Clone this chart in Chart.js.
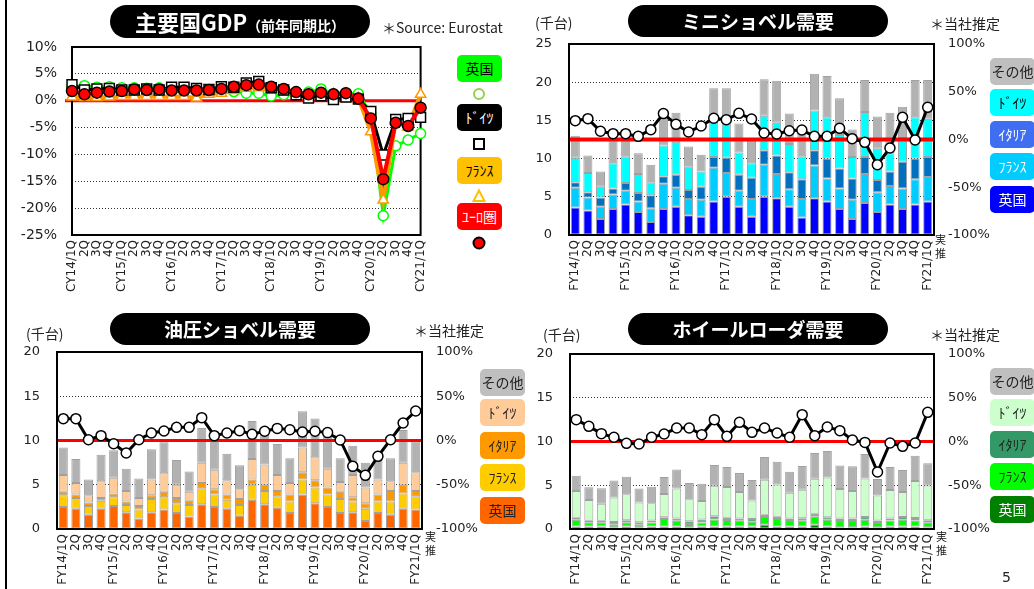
<!DOCTYPE html>
<html lang="ja">
<head>
<meta charset="utf-8">
<script src="https://cdn.jsdelivr.net/npm/chart.js@4.4.0/dist/chart.umd.min.js"></script>
<style>
  body { margin: 0; width: 1034px; height: 589px; overflow: hidden; background: #fff; position: relative;
         font-family: "Noto Sans CJK JP", sans-serif; color: #222; }
  canvas { position: absolute; }
  .pill { position: absolute; background: #000; color: #fff; border-radius: 17px; font-weight: 700;
          text-align: center; white-space: nowrap; }
  .note { position: absolute; font-size: 14px; line-height: 18px; white-space: nowrap; }
  .leg { position: absolute; width: 45px; height: 27px; border-radius: 5px; font-size: 14px; line-height: 27px;
         text-align: center; white-space: nowrap; overflow: hidden; z-index: 2; }
  .mk { position: absolute; z-index: 2; }
</style>
</head>
<body>
<div style="position:absolute;left:5px;top:0;width:2px;height:589px;background:#000"></div>

<canvas id="gdp" width="440" height="300" style="left:0;top:0"></canvas>
<canvas id="mini" width="514" height="300" style="left:520px;top:0"></canvas>
<canvas id="hyd" width="520" height="289" style="left:0;top:300px"></canvas>
<canvas id="wl" width="514" height="289" style="left:520px;top:300px"></canvas>

<div class="pill" style="left:110px;top:5px;width:260px;height:33px;line-height:33px">
  <span style="font-size:22px">主要国GDP</span><span style="font-size:14px">（前年同期比）</span></div>
<div class="note" style="left:382px;top:18px">＊Source: Eurostat</div>

<div class="pill" style="left:628px;top:5px;width:260px;height:32px;line-height:32px;font-size:19px">ミニショベル需要</div>
<div class="note" style="left:535px;top:13px">(千台)</div>
<div class="note" style="left:930px;top:14px">＊当社推定</div>

<div class="pill" style="left:110px;top:313px;width:260px;height:32px;line-height:32px;font-size:19px">油圧ショベル需要</div>
<div class="note" style="left:26px;top:324px">(千台)</div>
<div class="note" style="left:414px;top:321px">＊当社推定</div>

<div class="pill" style="left:628px;top:313px;width:260px;height:32px;line-height:32px;font-size:19px">ホイールローダ需要</div>
<div class="note" style="left:543px;top:325px">(千台)</div>
<div class="note" style="left:930px;top:325px">＊当社推定</div>

<div class="note" style="left:935px;top:232px;font-size:11px;line-height:14px">実<br>推</div>
<div class="note" style="left:425px;top:529px;font-size:11px;line-height:14px">実<br>推</div>
<div class="note" style="left:936px;top:529px;font-size:11px;line-height:14px">実<br>推</div>

<div class="note" style="left:1002px;top:568px;font-family:'DejaVu Sans';font-size:14px">5</div>

<div id="legends"></div>

<script>
// ---- data ----
const gdpLabels = ['CY14/1Q','2Q','3Q','4Q','CY15/1Q','2Q','3Q','4Q','CY16/1Q','2Q','3Q','4Q',
  'CY17/1Q','2Q','3Q','4Q','CY18/1Q','2Q','3Q','4Q','CY19/1Q','2Q','3Q','4Q','CY20/1Q','2Q','3Q','4Q','CY21/1Q'];
const fyLabels = ['FY14/1Q','2Q','3Q','4Q','FY15/1Q','2Q','3Q','4Q','FY16/1Q','2Q','3Q','4Q',
  'FY17/1Q','2Q','3Q','4Q','FY18/1Q','2Q','3Q','4Q','FY19/1Q','2Q','3Q','4Q','FY20/1Q','2Q','3Q','4Q','FY21/1Q'];

// GDP y/y %
const gdpUK = [2.6,2.8,2.5,2.6,2.4,2.4,2.3,2.4,2.2,2.0,1.9,1.9,1.8,1.7,1.4,1.4,0.9,1.1,1.4,1.6,2.2,1.2,1.4,1.3,-2.4,-21.4,-8.4,-7.3,-6.1];
const gdpDE = [3.0,2.0,2.2,2.3,2.0,2.0,2.2,2.0,2.5,2.5,2.3,2.1,2.6,2.5,3.3,3.6,2.4,2.0,1.1,0.5,0.9,0.2,0.7,0.3,-2.0,-10.1,-3.5,-3.3,-3.1];
const gdpFR = [0.7,0.6,0.6,0.7,0.8,0.8,0.8,0.8,0.8,0.8,0.5,1.2,1.4,1.9,2.3,2.4,2.0,1.6,1.4,1.1,1.1,1.2,1.3,0.5,-5.8,-18.5,-3.8,-4.9,1.2];
const gdpEuro = [1.8,1.2,1.5,1.7,1.8,2.1,2.0,2.1,1.9,1.9,1.9,2.0,2.2,2.6,2.9,3.0,2.6,2.2,1.6,1.2,1.5,1.2,1.4,0.4,-3.3,-14.6,-4.1,-4.7,-1.3];

// mini excavator demand (thousand units) and y/y %
const miniUK    = [3.6,3.2,2.1,3.4,4.0,3.0,1.7,3.4,3.7,2.6,2.4,4.4,5.0,3.7,2.4,5.0,4.8,3.7,2.3,4.8,4.4,3.4,2.1,4.2,3.0,4.0,3.4,4.0,4.4];
const miniFR    = [2.6,1.7,1.6,1.9,1.8,1.4,1.8,3.3,2.5,2.1,2.2,4.4,3.1,2.1,2.3,4.2,3.2,2.3,2.4,4.3,3.0,2.7,2.5,3.8,2.6,2.4,2.7,3.3,3.2];
const miniIT    = [0.7,0.7,1.2,0.8,1.0,1.1,1.7,1.0,1.7,1.2,1.7,1.4,2.0,2.1,2.8,1.9,2.4,2.2,2.6,2.0,2.6,2.6,2.8,2.2,1.6,1.9,3.5,2.7,2.6];
const miniDE    = [3.2,2.5,1.4,3.3,3.5,2.5,1.7,4.0,4.3,3.1,2.0,4.5,4.5,2.9,1.9,4.5,4.3,3.7,3.0,5.2,5.4,4.4,2.8,5.9,4.1,2.4,3.1,5.4,5.0];
const miniOther = [2.9,2.3,2.0,3.0,2.7,2.7,2.3,3.5,3.8,2.6,2.2,4.5,4.6,3.8,3.2,4.8,5.5,4.0,3.7,4.8,5.4,4.8,3.6,4.2,4.2,5.3,4.1,4.9,5.1];
const miniYoY   = [19.7,21.8,8.6,6.1,6.1,3.3,10.3,27.1,15.9,7.9,14.1,22.2,20.8,27.4,21.5,6.8,5.8,9.2,9.9,3.3,3.3,11.7,0.9,-3.0,-26.4,-8.9,23.2,-0.5,33.7];

// hydraulic excavator demand
const hydUK    = [2.5,2.3,1.6,2.3,2.6,1.9,1.2,1.9,2.2,1.8,1.4,2.8,2.5,2.3,1.5,3.3,2.8,2.4,1.8,3.9,2.9,2.5,1.8,1.9,0.9,1.8,1.6,2.3,2.2];
const hydFR    = [1.3,1.2,1.0,0.9,1.0,0.8,1.0,1.5,1.4,1.1,1.3,1.8,1.4,1.0,1.2,1.7,1.5,1.3,1.3,1.7,1.8,1.4,1.6,1.2,1.4,1.3,1.5,1.7,1.5];
const hydIT    = [0.4,0.4,0.4,0.3,0.4,0.4,0.4,0.4,0.6,0.6,0.5,0.6,0.6,0.6,0.7,0.6,0.7,0.6,0.8,0.8,0.8,0.8,0.8,0.5,0.6,0.8,1.2,1.0,0.6];
const hydDE    = [1.9,1.3,0.8,1.9,1.8,1.2,0.9,1.8,2.1,1.5,1.0,2.3,2.2,1.6,1.1,2.3,2.3,1.8,1.3,2.8,2.6,2.1,1.1,2.5,1.8,1.7,1.1,2.5,2.1];
const hydOther = [3.1,2.7,1.8,3.0,3.1,2.5,2.2,3.4,3.5,2.8,2.3,3.9,3.5,3.0,2.7,4.3,3.7,3.5,2.8,4.1,4.4,3.6,2.7,3.3,2.8,2.2,2.6,3.7,3.5];
const hydYoY   = [24.7,24.7,0.9,5.5,-3.6,-14.1,0.9,8.5,10.7,14.9,14.9,25.8,5.5,8.5,11.1,7.0,10.4,13.7,12.2,9.6,10.4,8.9,0.6,-29.2,-39.4,-17.9,0.9,19.8,33.3];

// wheel loader demand
const wlUK    = [0.3,0.3,0.3,0.2,0.3,0.2,0.3,0.3,0.3,0.2,0.3,0.3,0.3,0.3,0.3,0.5,0.3,0.3,0.3,0.5,0.3,0.2,0.2,0.3,0.2,0.3,0.3,0.3,0.2];
const wlFR    = [0.76,0.42,0.42,0.34,0.46,0.3,0.45,0.83,0.64,0.38,0.45,0.8,0.73,0.64,0.53,0.87,0.84,0.61,0.65,0.95,0.76,0.72,0.72,0.76,0.5,0.68,0.76,0.68,0.57];
const wlIT    = [0.23,0.23,0.23,0.27,0.23,0.27,0.23,0.2,0.27,0.31,0.35,0.35,0.27,0.27,0.3,0.27,0.27,0.3,0.27,0.3,0.27,0.27,0.27,0.3,0.26,0.23,0.3,0.27,0.23];
const wlDE    = [3.05,2.36,1.95,2.78,2.97,2.25,1.95,2.66,3.42,2.51,2.09,3.5,3.5,3.01,2.14,4.0,3.69,2.93,3.27,4.0,4.57,3.38,3.16,4.42,2.86,3.24,2.86,4.23,3.96];
const wlOther = [1.75,1.45,1.75,1.94,2.02,1.6,1.9,1.94,2.18,1.87,1.98,2.36,2.29,2.17,2.32,2.59,2.59,2.4,2.71,2.94,3.01,2.68,2.82,2.78,1.9,2.63,2.51,2.89,2.55];
const wlYoY   = [25.0,17.3,9.0,4.8,-2.1,-2.9,4.8,8.6,15.4,15.4,7.8,25.0,5.9,21.9,10.5,15.4,9.7,4.8,30.7,6.7,16.6,12.4,1.7,-1.0,-34.9,-1.7,-5.5,-1.7,33.3];

const seriesNames = ['英国', 'フランス', 'イタリア', 'ドイツ', 'その他'];
const legendNames = ['英国', 'ﾌﾗﾝｽ', 'ｲﾀﾘｱ', 'ﾄﾞｲﾂ', 'その他'];

Chart.defaults.font.family = 'DejaVu Sans';
Chart.defaults.color = '#222';
Chart.defaults.animation = false;

// frame round the plot area + red 0% line
const framePlugin = {
  id: 'frame',
  drawLine(chart, o) {
    const a = chart.chartArea, ctx = chart.ctx;
    const y = chart.scales[o.scale].getPixelForValue(o.value);
    ctx.save();
    ctx.strokeStyle = o.color;
    ctx.lineWidth = o.width;
    ctx.beginPath();
    ctx.moveTo(a.left - (o.extendLeft || 0), y);
    ctx.lineTo(a.right, y);
    ctx.stroke();
    ctx.restore();
  },
  drawFrame(chart) {
    const a = chart.chartArea, ctx = chart.ctx;
    ctx.save();
    ctx.strokeStyle = '#000';
    ctx.lineWidth = 2;
    ctx.strokeRect(a.left, a.top, a.right - a.left, a.bottom - a.top);
    ctx.restore();
  },
  beforeDatasetsDraw(chart, args, o) {
    if (!o.beforeLine) this.drawLine(chart, o);
    if (!o.frameOnTop) this.drawFrame(chart);
  },
  beforeDatasetDraw(chart, args, o) {
    if (o.beforeLine && args.meta.type === 'line') this.drawLine(chart, o);
  },
  afterDatasetsDraw(chart, args, o) {
    if (o.frameOnTop) this.drawFrame(chart);
  }
};

const tickFont = { family: 'DejaVu Sans', size: 12 };
const axisFont = { family: 'DejaVu Sans', size: 13 };

// ---- GDP line chart ----
new Chart(document.getElementById('gdp'), {
  type: 'line',
  data: {
    labels: gdpLabels,
    datasets: [
      { data: gdpEuro, borderColor: '#FF0000', borderWidth: 4, pointStyle: 'circle', pointRadius: 5.5,
        pointBackgroundColor: '#FF0000', pointBorderColor: '#000', pointBorderWidth: 1.5, order: 0, clip: false },
      { data: gdpDE, borderColor: '#000', borderWidth: 3, pointStyle: 'rect', pointRadius: 7,
        pointBackgroundColor: '#fff', pointBorderColor: '#000', pointBorderWidth: 1.5, order: 1, clip: false },
      { data: gdpFR, borderColor: '#FF9900', borderWidth: 4, pointStyle: 'triangle', pointRadius: 6,
        pointBackgroundColor: '#fff', pointBorderColor: '#FF9900', pointBorderWidth: 1.5, order: 2, clip: false },
      { data: gdpUK, borderColor: '#00FF00', borderWidth: 3, pointStyle: 'circle', pointRadius: 5,
        pointBackgroundColor: '#fff', pointBorderColor: '#00FF00', pointBorderWidth: 1.5, order: 3, clip: false }
    ]
  },
  options: {
    responsive: false,
    layout: { padding: { top: 47, right: 16, left: 0, bottom: 0 } },
    plugins: {
      legend: { display: false }, tooltip: { enabled: false },
      frame: { scale: 'y', value: 0, color: '#FF0000', width: 3, extendLeft: 7, beforeLine: false, frameOnTop: false }
    },
    scales: {
      x: {
        grid: { display: false, drawTicks: false }, border: { display: false },
        ticks: { autoSkip: false, maxRotation: 90, minRotation: 90, font: tickFont, padding: 5 },
        afterFit: s => { s.height = 65; }
      },
      y: {
        min: -25, max: 10,
        grid: { color: '#333', drawTicks: false }, border: { display: false, dash: [1, 2] },
        ticks: { stepSize: 5, padding: 15, font: { family: 'DejaVu Sans', size: 14 }, callback: v => v + '%' },
        afterFit: s => { s.width = 72; }
      }
    }
  },
  plugins: [framePlugin]
});

// ---- stacked bar + y/y line charts ----
function demandChart(id, stacks, colors, yoy, yMax, box) {
  const datasets = [{
    type: 'line', data: yoy, yAxisID: 'y1', borderColor: '#000', borderWidth: 3, tension: 0,
    pointRadius: 5, pointBackgroundColor: '#fff', pointBorderColor: '#000', pointBorderWidth: 1.5, order: 0
  }];
  stacks.forEach((d, i) => datasets.push({
    type: 'bar', label: seriesNames[i], data: d, yAxisID: 'y', backgroundColor: colors[i],
    borderColor: '#a0a0a0', borderWidth: 1, borderSkipped: false,
    barPercentage: 0.72, categoryPercentage: 1, order: 1
  }));
  return new Chart(document.getElementById(id), {
    data: { labels: fyLabels, datasets },
    options: {
      responsive: false,
      layout: { padding: { top: box.top, right: box.right, left: 0, bottom: 0 } },
      plugins: {
        legend: { display: false }, tooltip: { enabled: false },
        frame: { scale: 'y1', value: 0, color: '#FF0000', width: box.redWidth, beforeLine: true, frameOnTop: true }
      },
      scales: {
        x: {
          stacked: true, offset: true,
          grid: { display: false, drawTicks: false }, border: { display: false },
          ticks: { autoSkip: false, maxRotation: 90, minRotation: 90, font: tickFont, padding: 5 },
          afterFit: s => { s.height = box.xh; }
        },
        y: {
          stacked: true, min: 0, max: yMax,
          grid: { color: '#333', drawTicks: false }, border: { display: false, dash: [1, 2] },
          ticks: { stepSize: 5, padding: 17, font: axisFont },
          afterFit: s => { s.width = box.left; }
        },
        y1: {
          position: 'right', min: -100, max: 100,
          grid: { display: false, drawTicks: false }, border: { display: false },
          ticks: { stepSize: 50, padding: 14, font: axisFont, callback: v => v + '%' },
          afterFit: s => { s.width = 60; }
        }
      }
    },
    plugins: [framePlugin]
  });
}

const miniColors = ['#0000FF', '#00CCFF', '#0070C0', '#00FFFF', '#B2B2B2'];
const hydColors  = ['#FF6600', '#FFCC00', '#FF9900', '#FFCC99', '#B2B2B2'];
const wlColors   = ['#007A00', '#00FF00', '#339966', '#CCFFCC', '#B2B2B2'];

demandChart('mini', [miniUK, miniFR, miniIT, miniDE, miniOther], miniColors, miniYoY, 25,
  { top: 44, right: 40, left: 49, xh: 65, redWidth: 4 });
demandChart('hyd', [hydUK, hydFR, hydIT, hydDE, hydOther], hydColors, hydYoY, 20,
  { top: 52, right: 38, left: 57, xh: 60, redWidth: 3 });
demandChart('wl', [wlUK, wlFR, wlIT, wlDE, wlOther], wlColors, wlYoY, 20,
  { top: 54, right: 40, left: 50, xh: 60, redWidth: 3 });

// ---- legends (html boxes) ----
const legWrap = document.getElementById('legends');
function legBox(x, y, text, bg, fg) {
  const d = document.createElement('div');
  d.className = 'leg';
  d.style.left = x + 'px'; d.style.top = y + 'px';
  d.style.background = bg; d.style.color = fg;
  d.textContent = text;
  legWrap.appendChild(d);
}
function legMark(x, y, svg) {
  const d = document.createElement('div');
  d.className = 'mk';
  d.style.left = (x - 8) + 'px'; d.style.top = (y - 8) + 'px';
  d.innerHTML = '<svg width="16" height="16" viewBox="0 0 16 16">' + svg + '</svg>';
  legWrap.appendChild(d);
}

// GDP legend
legBox(457, 55, '英国', '#00FF00', '#000');
legMark(479, 91, '<circle cx="8" cy="8" r="5" fill="#fff" stroke="#92D050" stroke-width="2"/>');
legBox(457, 104, 'ﾄﾞｲﾂ', '#000', '#fff');
legMark(479, 141, '<rect x="3" y="3" width="10" height="10" fill="#fff" stroke="#000" stroke-width="2"/>');
legBox(457, 157, 'ﾌﾗﾝｽ', '#FFC000', '#000');
legMark(479, 193, '<polygon points="8,2.5 13.5,13 2.5,13" fill="#fff" stroke="#FFC000" stroke-width="2"/>');
legBox(457, 203, 'ﾕｰﾛ圏', '#FF0000', '#fff');
legMark(479, 240, '<circle cx="8" cy="8" r="5.5" fill="#FF0000" stroke="#000" stroke-width="2"/>');

// demand legends: top to bottom その他, ﾄﾞｲﾂ, ｲﾀﾘｱ, ﾌﾗﾝｽ, 英国
function demandLegend(x, tops, bgs, fgs) {
  for (let k = 0; k < 5; k++) {
    const i = 4 - k;
    legBox(x, tops[k], legendNames[i], bgs[i], fgs[i]);
  }
}
demandLegend(990, [58, 89, 121, 153, 186],
  ['#0000FF', '#00CCFF', '#3F6FF0', '#00FFFF', '#BFBFBF'], ['#fff', '#fff', '#fff', '#000', '#222']);
demandLegend(480, [369, 399, 432, 464, 497],
  ['#FF6600', '#FFCC00', '#FF9900', '#FFCC99', '#BFBFBF'], ['#222', '#222', '#222', '#222', '#222']);
demandLegend(990, [368, 399, 431, 463, 496],
  ['#008000', '#00FF00', '#339966', '#CCFFCC', '#BFBFBF'], ['#fff', '#222', '#222', '#222', '#222']);
</script>
</body>
</html>
